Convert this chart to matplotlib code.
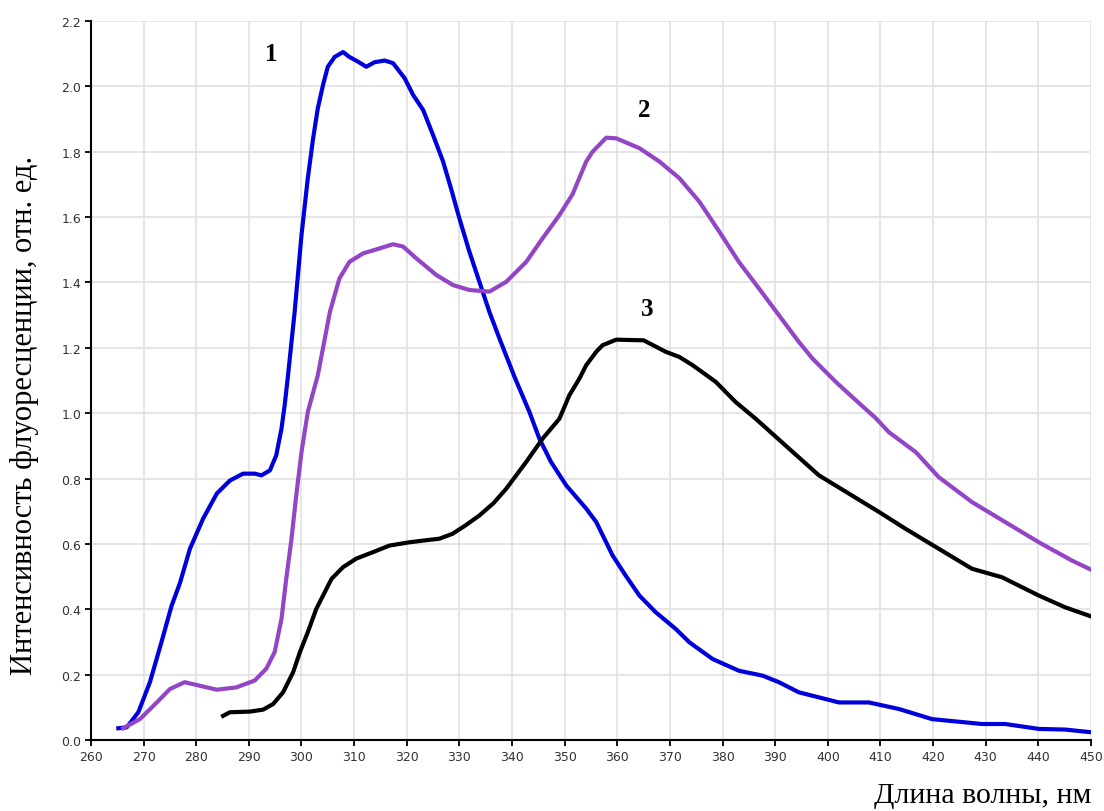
import numpy as np
import matplotlib
matplotlib.use('Agg')
import matplotlib.pyplot as plt

# curve 1 (blue)
wl_1 = [265.2, 266.8, 269.0, 271.2, 273.4, 275.3, 276.9, 278.8, 281.3, 283.9,
        286.4, 288.9, 291.1, 292.4, 294.0, 295.2, 296.2, 296.8, 297.4, 298.7,
        300.0, 301.2, 302.2, 303.1, 304.1, 305.0, 306.3, 307.9, 309.1, 310.7,
        312.3, 313.9, 315.8, 317.4, 319.6, 321.2, 323.1, 325.0, 326.9, 328.4,
        330.0, 331.9, 333.8, 335.7, 337.6, 340.5, 343.3, 345.2, 347.4, 350.3,
        354.1, 356.0, 359.1, 361.6, 364.2, 367.3, 371.1, 373.7, 378.1, 383.1,
        387.6, 390.7, 394.5, 400.9, 402.1, 407.8, 413.5, 419.8, 429.3, 433.7,
        440.1, 445.1, 449.9]
int_1 = [0.036, 0.039, 0.085, 0.177, 0.30, 0.41, 0.48, 0.585, 0.677, 0.754,
         0.794, 0.815, 0.815, 0.81, 0.825, 0.871, 0.953, 1.024, 1.11, 1.31,
         1.545, 1.719, 1.84, 1.933, 2.005, 2.06, 2.09, 2.105, 2.09, 2.076,
         2.06, 2.074, 2.079, 2.071, 2.025, 1.974, 1.928, 1.851, 1.77, 1.688,
         1.596, 1.494, 1.402, 1.31, 1.229, 1.11, 1.004, 0.922, 0.851, 0.779,
         0.708, 0.667, 0.565, 0.503, 0.442, 0.391, 0.34, 0.299, 0.248, 0.212,
         0.197, 0.177, 0.146, 0.12, 0.115, 0.115, 0.095, 0.064, 0.049, 0.049,
         0.034, 0.032, 0.024]

# curve 2 (purple)
wl_2 = [266.1, 269.3, 272.5, 275.0, 277.8, 280.7, 283.9, 287.6, 291.1, 293.3,
        294.9, 296.2, 297.1, 298.1, 299.0, 300.0, 301.2, 303.1, 305.4, 307.2,
        309.1, 311.7, 314.8, 317.4, 319.3, 321.8, 325.6, 328.8, 331.9, 335.7,
        338.9, 342.7, 345.8, 349.0, 351.5, 352.8, 354.1, 355.3, 357.9, 359.8,
        364.2, 368.0, 371.8, 375.6, 379.4, 383.1, 386.9, 390.7, 394.5, 397.1,
        401.5, 405.3, 409.1, 411.6, 416.7, 421.1, 427.4, 433.7, 440.1, 446.4,
        449.9]
int_2 = [0.036, 0.064, 0.115, 0.156, 0.177, 0.166, 0.154, 0.161, 0.182, 0.218,
         0.269, 0.371, 0.493, 0.616, 0.748, 0.881, 1.004, 1.116, 1.31, 1.412,
         1.463, 1.489, 1.504, 1.517, 1.51, 1.474, 1.423, 1.392, 1.377, 1.372,
         1.402, 1.463, 1.535, 1.606, 1.67, 1.72, 1.77, 1.80, 1.843, 1.841,
         1.811, 1.77, 1.719, 1.647, 1.555, 1.463, 1.382, 1.3, 1.218, 1.167,
         1.096, 1.04, 0.985, 0.942, 0.881, 0.804, 0.728, 0.667, 0.605, 0.549,
         0.522]

# curve 3 (black)
wl_3 = [285.1, 286.4, 290.2, 292.7, 294.6, 296.5, 298.4, 299.7, 301.2, 302.8,
        304.1, 305.7, 307.9, 310.4, 313.6, 316.7, 320.5, 323.5, 326.2, 328.7,
        331.0, 333.8, 336.5, 338.9, 342.7, 345.8, 349.0, 350.9, 352.8, 354.1,
        356.0, 357.2, 359.8, 365.0, 369.2, 371.8, 374.3, 378.7, 382.5, 386.3,
        392.6, 398.3, 404.0, 409.7, 414.8, 421.1, 427.4, 433.1, 440.1, 445.1,
        449.9]
int_3 = [0.074, 0.085, 0.087, 0.093, 0.11, 0.146, 0.207, 0.269, 0.33, 0.401,
         0.442, 0.493, 0.529, 0.555, 0.575, 0.595, 0.605, 0.611, 0.616, 0.631,
         0.655, 0.687, 0.725, 0.769, 0.851, 0.922, 0.983, 1.055, 1.106, 1.147,
         1.188, 1.208, 1.225, 1.223, 1.188, 1.172, 1.147, 1.096, 1.034, 0.983,
         0.892, 0.81, 0.754, 0.698, 0.646, 0.585, 0.524, 0.498, 0.442, 0.406,
         0.379]

labels = ['1', '2', '3']
label_pos = [(294.3, 2.10), (365.1, 1.93), (365.7, 1.32)]

serif = 'Liberation Serif'

fig = plt.figure(figsize=(11.04, 8.12), dpi=100)
ax = fig.add_axes([0.0824, 0.0874, 0.9058, 0.8855])

ax.plot(wl_1, int_1, color='#0000dc', lw=3)
ax.plot(wl_2, int_2, color='#9345c6', lw=3)
ax.plot(wl_3, int_3, color='black', lw=3)

for txt, (x, y) in zip(labels, label_pos):
    ax.text(x, y, txt, fontsize=18, fontweight='bold', family=serif,
            ha='center', va='center')

ax.set_xlim(260, 450)
ax.set_ylim(0, 2.2)
ax.set_xticks(np.arange(260, 451, 10))
ax.set_yticks(np.arange(0, 2.21, 0.2))
ax.set_yticklabels(['%.1f' % v for v in np.arange(0, 2.21, 0.2)])
ax.grid(True, color='#e2e2e2', lw=1.2)
ax.set_axisbelow(True)

for s in ['top', 'right']:
    ax.spines[s].set_visible(False)
for s in ['left', 'bottom']:
    ax.spines[s].set_linewidth(1.5)
ax.tick_params(direction='out', length=4, width=1.3, labelsize=9,
               labelcolor='#333333', pad=3)

ax.set_ylabel('Интенсивность флуоресценции, отн. ед.', family=serif,
              fontsize=22)
ax.yaxis.set_label_coords(-0.052, 0.453)
ax.text(1.0, -0.0865, 'Длина волны, нм', transform=ax.transAxes,
        family=serif, fontsize=21.5, ha='right', va='baseline')

fig.savefig('out.png', dpi=100)
